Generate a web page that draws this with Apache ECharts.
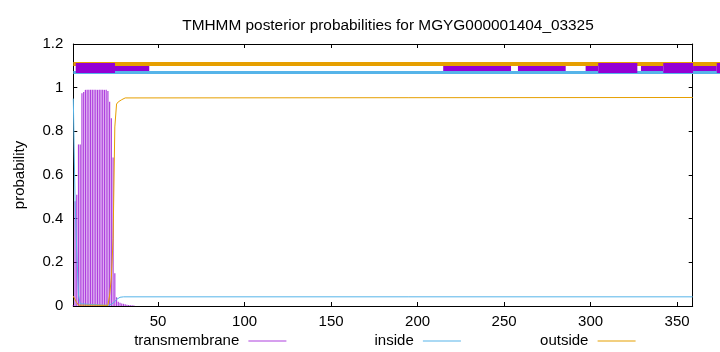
<!DOCTYPE html>
<html><head><meta charset="utf-8">
<script src="https://cdn.jsdelivr.net/npm/echarts@6/dist/echarts.min.js"></script>
<style>html,body{margin:0;padding:0;background:#fff}#c{width:720px;height:352px}</style>
</head><body><div id="c"></div>
<script>
const titleText = 'TMHMM posterior probabilities for MGYG000001404_03325';
const yAxisName = 'probability';
const seriesNames = ['transmembrane', 'inside', 'outside'];
const xTickValues = [50, 100, 150, 200, 250, 300, 350];
const xRange = [1, 359];
const yRange = [0, 1.2];

// transmembrane posterior (impulses)
const tmX = [1,2,3,4,5,6,7,8,9,10,11,12,13,14,15,16,17,18,19,20,21,22,23,24,25,26,27,28,29,30,31,32,33,34,35,36];
const tmProb = [0.005,0.48,0.51,0.74,0.74,0.975,0.98,0.99,0.99,0.99,0.99,0.99,0.99,0.99,0.99,0.99,0.99,0.99,0.99,0.99,0.985,0.935,0.86,0.68,0.15,0.04,0.02,0.015,0.012,0.01,0.008,0.006,0.005,0.004,0.003,0.002];

// inside posterior
const insideX = [1,2,3,4,5,6,21,22,23,24,25,26,27,28,29,30,359];
const insideProb = [0.95,0.49,0.25,0.05,0.01,0.004,0.003,0.004,0.008,0.013,0.02,0.03,0.036,0.04,0.041,0.042,0.042];

// outside posterior
const outsideX = [1,2,3,4,5,21,22,23,24,25,26,27,28,29,30,31,32,359];
const outsideProb = [0.045,0.04,0.015,0.004,0.002,0.003,0.05,0.13,0.31,0.82,0.925,0.935,0.94,0.945,0.95,0.953,0.955,0.955];

// topology bars drawn above the plot
const outsideBarY = 1.11;
const insideBarY = 1.07;
const tmBarY = 1.09;
const outsideBarSpan = [1, 380];
const insideBarSpan = [1, 380];
const tmThickSpans = [[2.4, 25.1], [304.4, 327.0], [342.0, 359.2], [372.9, 380]];
const tmThinSpans = [[25.1, 44.9], [214.8, 254.0], [258.0, 285.6], [297.1, 304.4], [329.1, 342.0], [359.2, 372.9]];

const cTM = '#9400d3', cIn = '#56b4e9', cOut = '#e69f00';
const font = 'Liberation Sans, Arial, sans-serif';
const fs = 15;

const chart = echarts.init(document.getElementById('c'), null, {renderer: 'canvas'});
const spanToLines = (spans, y) => spans.map(s => ({coords: [[s[0], y], [s[1], y]]}));

const axisCommon = {
  axisLine: {show: true, onZero: false, lineStyle: {color: '#000', width: 1}},
  splitLine: {show: false}
};

chart.setOption({
  animation: false,
  backgroundColor: '#fff',
  title: {
    text: titleText, left: 383, top: 13, textAlign: 'center',
    textStyle: {fontFamily: font, fontSize: 15.4, fontWeight: 'normal', color: '#000'}
  },
  grid: {left: 73.3, top: 44, width: 619.4, height: 262, containLabel: false},
  legend: seriesNames.map((n, i) => ({
    data: [n], right: [433.6, 259.1, 84.4][i], top: 333, align: 'right', padding: 0,
    icon: 'rect', itemWidth: 38, itemHeight: 1,
    formatter: v => v + ' ',
    textStyle: {fontFamily: font, fontSize: fs, color: '#000', lineHeight: 16},
    selectedMode: false
  })),
  xAxis: [
    Object.assign({type: 'value', min: xRange[0], max: xRange[1], position: 'bottom',
      axisTick: {show: true, inside: true, length: 4, customValues: xTickValues, lineStyle: {color: '#000'}},
      axisLabel: {show: true, customValues: xTickValues, margin: 8, fontFamily: font, fontSize: fs, color: '#000'}}, axisCommon),
    Object.assign({type: 'value', min: xRange[0], max: xRange[1], position: 'top', gridIndex: 0,
      axisTick: {show: true, inside: true, length: 4, customValues: xTickValues, lineStyle: {color: '#000'}},
      axisLabel: {show: false}}, axisCommon)
  ],
  yAxis: [
    Object.assign({type: 'value', min: yRange[0], max: yRange[1], interval: 0.2, position: 'left',
      name: yAxisName, nameLocation: 'middle', nameRotate: 90, nameGap: 46,
      nameTextStyle: {fontFamily: font, fontSize: fs, color: '#000'},
      axisTick: {show: true, inside: true, length: 4, lineStyle: {color: '#000'}},
      axisLabel: {show: true, margin: 10, fontFamily: font, fontSize: fs, color: '#000'}}, axisCommon),
    Object.assign({type: 'value', min: yRange[0], max: yRange[1], interval: 0.2, position: 'right',
      axisTick: {show: true, inside: true, length: 4, lineStyle: {color: '#000'}},
      axisLabel: {show: false}}, axisCommon)
  ],
  series: [
    {name: seriesNames[0], type: 'bar', xAxisIndex: 0, yAxisIndex: 0, barWidth: 1.2,
      color: cTM, itemStyle: {color: cTM, opacity: 0.75}, z: 2,
      data: tmX.map((x, i) => [x, tmProb[i]])},
    {name: seriesNames[1], type: 'line', xAxisIndex: 0, yAxisIndex: 0, showSymbol: false, symbol: 'none',
      color: cIn, lineStyle: {color: cIn, width: 1}, z: 3,
      data: insideX.map((x, i) => [x, insideProb[i]])},
    {name: seriesNames[2], type: 'line', xAxisIndex: 0, yAxisIndex: 0, showSymbol: false, symbol: 'none',
      color: cOut, lineStyle: {color: cOut, width: 1}, z: 4,
      data: outsideX.map((x, i) => [x, outsideProb[i]])},
    {type: 'lines', coordinateSystem: 'cartesian2d', xAxisIndex: 0, yAxisIndex: 0, clip: false, silent: true, z: 5,
      lineStyle: {color: cOut, width: 4, opacity: 1, cap: 'butt'},
      data: spanToLines([outsideBarSpan], outsideBarY)},
    {type: 'lines', coordinateSystem: 'cartesian2d', xAxisIndex: 0, yAxisIndex: 0, clip: false, silent: true, z: 6,
      lineStyle: {color: cIn, width: 3, opacity: 1, cap: 'butt'},
      data: spanToLines([insideBarSpan], insideBarY)},
    {type: 'lines', coordinateSystem: 'cartesian2d', xAxisIndex: 0, yAxisIndex: 0, clip: false, silent: true, z: 7,
      lineStyle: {color: cTM, width: 5, opacity: 1, cap: 'butt'},
      data: spanToLines(tmThinSpans, tmBarY)},
    {type: 'lines', coordinateSystem: 'cartesian2d', xAxisIndex: 0, yAxisIndex: 0, clip: false, silent: true, z: 8,
      lineStyle: {color: cTM, width: 10, opacity: 1, cap: 'butt'},
      data: spanToLines(tmThickSpans, tmBarY)}
  ]
});
</script></body></html>
